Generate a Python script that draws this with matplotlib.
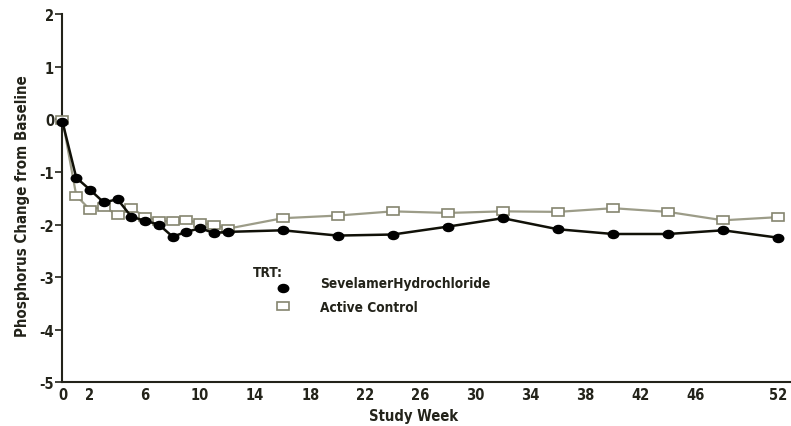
import matplotlib
matplotlib.use("Agg")
import matplotlib.pyplot as plt
from matplotlib.markers import MarkerStyle
from matplotlib.transforms import Affine2D

plt.rcParams['font.family'] = ['DejaVu Sans']
plt.rcParams['font.stretch'] = 'condensed'

weeks_sev = [0, 1, 2, 3, 4, 5, 6, 7, 8, 9, 10, 11, 12, 16, 20, 24, 28, 32, 36, 40, 44, 48, 52]
sevelamer = [-0.05, -1.11, -1.34, -1.58, -1.52, -1.85, -1.93, -2.0, -2.23, -2.14, -2.07, -2.16, -2.14,
             -2.11, -2.21, -2.19, -2.04, -1.88, -2.09, -2.18, -2.18, -2.11, -2.25]
weeks_ctl = [0, 1, 2, 3, 4, 5, 6, 7, 8, 9, 10, 11, 12, 16, 20, 24, 28, 32, 36, 40, 44, 48, 52]
control = [-0.01, -1.45, -1.72, -1.66, -1.82, -1.69, -1.85, -1.93, -1.94, -1.92, -1.97, -2.0, -2.08,
           -1.88, -1.83, -1.75, -1.78, -1.75, -1.76, -1.69, -1.76, -1.92, -1.86]
xticks = [0, 2, 6, 10, 14, 18, 22, 26, 30, 34, 38, 42, 46, 52]
yticks = [-5, -4, -3, -2, -1, 0, 1, 2]
series_names = ['SevelamerHydrochloride', 'Active Control']

TXT = '#23231a'
CTL = '#9c9c88'
FS = 10.5

fig = plt.figure(figsize=(7.91, 4.27), dpi=100)
ax = fig.add_axes([0.079, 0.102, 0.921, 0.863])

ell = MarkerStyle('o', transform=Affine2D().scale(1.3, 1.0))
rect = MarkerStyle('s', transform=Affine2D().scale(1.5, 1.0))

ax.plot(weeks_ctl, control, color=CTL, lw=1.6, marker=rect, ms=5.6, mfc='white', mec='#85856f', mew=1.2,
        zorder=3, clip_on=False)
ax.plot(weeks_sev, sevelamer, color='#111108', lw=1.8, marker=ell, ms=5.8, mfc='black', mec='black',
        zorder=4, clip_on=False)

ax.set_xlim(0, 52.94)
ax.set_ylim(-5, 2)
ax.set_xticks(xticks)
ax.set_yticks(yticks)
ax.set_xticklabels([str(t) for t in xticks], fontsize=FS, fontweight='bold', color=TXT)
ax.set_yticklabels([str(t) for t in yticks], fontsize=FS, fontweight='bold', color=TXT)
ax.tick_params(axis='x', length=0, pad=3)
ax.tick_params(axis='y', length=5, width=1.2, color=TXT, pad=1)
for s in ['top', 'right']:
    ax.spines[s].set_visible(False)
for s in ['left', 'bottom']:
    ax.spines[s].set_linewidth(1.5)
    ax.spines[s].set_color(TXT)

fig.text(414/791, 1 - 417/427, 'Study Week', fontsize=10.6, fontweight='bold', color=TXT,
         ha='center', va='center')
fig.text(23/791, 1 - 206/427, 'Phosphorus Change from Baseline', fontsize=10.8, fontweight='bold',
         color=TXT, ha='center', va='center', rotation=90)

# legend (manual, markers only)
LFS = 9.8
fig.text(253/791, 1 - 273/427, 'TRT:', fontsize=LFS, fontweight='bold', color=TXT, va='center', ha='left')
fig.lines.append(plt.Line2D([283/791], [1 - 289/427], transform=fig.transFigure, marker=ell, ms=5.8,
                            color='black', ls='none'))
fig.lines.append(plt.Line2D([283/791], [1 - 307/427], transform=fig.transFigure, marker=rect, ms=5.6,
                            mfc='white', mec='#85856f', mew=1.2, ls='none'))
fig.text(320/791, 1 - 284/427, series_names[0], fontsize=LFS, fontweight='bold', color=TXT, va='center')
fig.text(320/791, 1 - 308/427, series_names[1], fontsize=LFS, fontweight='bold', color=TXT, va='center')

fig.savefig('out.png', dpi=100)
